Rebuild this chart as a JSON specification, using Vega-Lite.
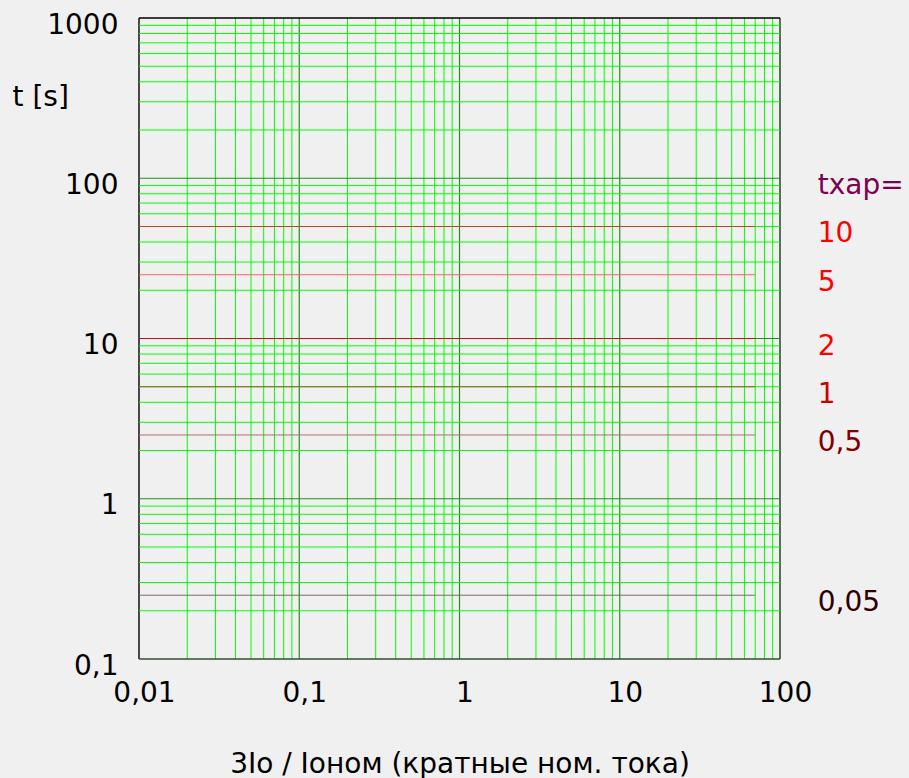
{
  "$schema": "https://vega.github.io/schema/vega-lite/v6.json",
  "width": 641,
  "height": 641,
  "autosize": {"type": "none"},
  "padding": {"left": 139, "top": 18, "right": 129, "bottom": 119},
  "background": "#f0f0f0",
  "config": {
    "view": {"stroke": null},
    "font": "DejaVu Sans",
    "axis": {"labelFont": "DejaVu Sans", "titleFont": "DejaVu Sans", "labelColor": "#000000", "titleColor": "#000000"}
  },
  "datasets": {
    "vgrid": [
      {"x": 0.01, "k": "edgeA"}, {"x": 0.02, "k": "minor"}, {"x": 0.03, "k": "minor"}, {"x": 0.04, "k": "minor"}, {"x": 0.05, "k": "minor"}, {"x": 0.06, "k": "minor"}, {"x": 0.07, "k": "minor"}, {"x": 0.08, "k": "minor"}, {"x": 0.09, "k": "minor"},
      {"x": 0.1, "k": "decade"}, {"x": 0.2, "k": "minor"}, {"x": 0.3, "k": "minor"}, {"x": 0.4, "k": "minor"}, {"x": 0.5, "k": "minor"}, {"x": 0.6, "k": "minor"}, {"x": 0.7, "k": "minor"}, {"x": 0.8, "k": "minor"}, {"x": 0.9, "k": "minor"},
      {"x": 1, "k": "decade"}, {"x": 2, "k": "minor"}, {"x": 3, "k": "minor"}, {"x": 4, "k": "minor"}, {"x": 5, "k": "minor"}, {"x": 6, "k": "minor"}, {"x": 7, "k": "minor"}, {"x": 8, "k": "minor"}, {"x": 9, "k": "minor"},
      {"x": 10, "k": "decade"}, {"x": 20, "k": "minor"}, {"x": 30, "k": "minor"}, {"x": 40, "k": "minor"}, {"x": 50, "k": "minor"}, {"x": 60, "k": "minor"}, {"x": 70, "k": "minor"}, {"x": 80, "k": "minor"}, {"x": 90, "k": "minor"},
      {"x": 100, "k": "edgeB"}
    ],
    "hgrid": [
      {"t": 0.1, "k": "edgeB"}, {"t": 0.2, "k": "minor"}, {"t": 0.3, "k": "minor"}, {"t": 0.4, "k": "minor"}, {"t": 0.5, "k": "minor"}, {"t": 0.6, "k": "minor"}, {"t": 0.7, "k": "minor"}, {"t": 0.8, "k": "minor"}, {"t": 0.9, "k": "minor"},
      {"t": 1, "k": "decade"}, {"t": 2, "k": "minor"}, {"t": 3, "k": "minor"}, {"t": 4, "k": "minor"}, {"t": 5, "k": "minor"}, {"t": 6, "k": "minor"}, {"t": 7, "k": "minor"}, {"t": 8, "k": "minor"}, {"t": 9, "k": "minor"},
      {"t": 10, "k": "decade"}, {"t": 20, "k": "minor"}, {"t": 30, "k": "minor"}, {"t": 40, "k": "minor"}, {"t": 50, "k": "minor"}, {"t": 60, "k": "minor"}, {"t": 70, "k": "minor"}, {"t": 80, "k": "minor"}, {"t": 90, "k": "minor"},
      {"t": 100, "k": "decade"}, {"t": 200, "k": "minor"}, {"t": 300, "k": "minor"}, {"t": 400, "k": "minor"}, {"t": 500, "k": "minor"}, {"t": 600, "k": "minor"}, {"t": 700, "k": "minor"}, {"t": 800, "k": "minor"}, {"t": 900, "k": "minor"},
      {"t": 1000, "k": "edgeA"}
    ],
    "lines": [
      {"s": "10", "t": 50, "x": 0.01, "x2": 70},
      {"s": "5", "t": 25, "x": 0.01, "x2": 70},
      {"s": "2", "t": 10, "x": 0.01, "x2": 70},
      {"s": "1", "t": 5, "x": 0.01, "x2": 70},
      {"s": "0,5", "t": 2.5, "x": 0.01, "x2": 70},
      {"s": "0,05", "t": 0.25, "x": 0.01, "x2": 70}
    ],
    "labels": [
      {"label": "txap=", "t": 100, "x": 172},
      {"label": "10", "t": 50, "x": 172},
      {"label": "5", "t": 25, "x": 172},
      {"label": "2", "t": 10, "x": 172},
      {"label": "1", "t": 5, "x": 172},
      {"label": "0,5", "t": 2.5, "x": 172},
      {"label": "0,05", "t": 0.25, "x": 172}
    ]
  },
  "layer": [
    {
      "data": {"name": "vgrid"},
      "mark": {"type": "rule"},
      "encoding": {
        "x": {
          "field": "x", "type": "quantitative", "title": "3Io / Ioном (кратные ном. тока)",
          "scale": {"type": "log", "domain": [0.01, 100], "nice": false},
          "axis": {
            "values": [0.01, 0.1, 1, 10, 100],
            "grid": false,
            "ticks": false,
            "domain": false,
            "labelExpr": "replace(format(datum.value, '~g'), '.', ',')",
            "labelFontSize": 28,
            "labelPadding": 20,
            "labelOffset": 5,
            "labelOverlap": false,
            "labelFlush": false,
            "labelBound": false,
            "titleFontSize": 28,
            "titleFontWeight": "normal",
            "titleY": 105,
            "titleBaseline": "middle"
          }
        },
        "stroke": {"field": "k", "type": "nominal", "legend": null,
          "scale": {"domain": ["minor", "decade", "edgeA", "edgeB"], "range": ["#00ff00", "#209020", "#000000", "#305030"]}},
        "strokeWidth": {"field": "k", "type": "nominal", "legend": null,
          "scale": {"domain": ["minor", "decade", "edgeA", "edgeB"], "range": [1, 1.6, 1.6, 2]}}
      }
    },
    {
      "data": {"name": "hgrid"},
      "mark": {"type": "rule"},
      "encoding": {
        "y": {
          "field": "t", "type": "quantitative", "title": "t [s]",
          "scale": {"type": "log", "domain": [0.1, 1000], "nice": false},
          "axis": {
            "values": [0.1, 1, 10, 100, 1000],
            "grid": false,
            "ticks": false,
            "domain": false,
            "labelExpr": "replace(format(datum.value, '~g'), '.', ',')",
            "labelFontSize": 28,
            "labelPadding": 21,
            "labelOffset": 7,
            "labelOverlap": false,
            "labelFlush": false,
            "labelBound": false,
            "titleFontSize": 28,
            "titleFontWeight": "normal",
            "titleAngle": 0,
            "titleAlign": "left",
            "titleBaseline": "middle",
            "titleX": -127,
            "titleY": 79
          }
        },
        "stroke": {"field": "k", "type": "nominal", "legend": null},
        "strokeWidth": {"field": "k", "type": "nominal", "legend": null}
      }
    },
    {
      "data": {"name": "lines"},
      "mark": {"type": "rule", "strokeWidth": 1},
      "encoding": {
        "x": {"field": "x", "type": "quantitative", "title": "3Io / Ioном (кратные ном. тока)"},
        "x2": {"field": "x2"},
        "y": {"field": "t", "type": "quantitative", "title": "t [s]"},
        "color": {"field": "s", "type": "nominal", "legend": null,
          "scale": {"domain": ["10", "5", "2", "1", "0,5", "0,05"], "range": ["#d04020", "#ff6060", "#d01010", "#a05a20", "#b07070", "#806868"]}}
      }
    },
    {
      "data": {"name": "labels"},
      "mark": {"type": "text", "align": "left", "baseline": "middle", "dy": 8, "fontSize": 28, "font": "DejaVu Sans"},
      "encoding": {
        "x": {"field": "x", "type": "quantitative", "title": "3Io / Ioном (кратные ном. тока)"},
        "y": {"field": "t", "type": "quantitative", "title": "t [s]"},
        "text": {"field": "label"},
        "fill": {"field": "label", "type": "nominal", "legend": null,
          "scale": {"domain": ["txap=", "10", "5", "2", "1", "0,5", "0,05"], "range": ["#800050", "#ff0000", "#ff0000", "#ff0000", "#cc0000", "#800000", "#300000"]}}
      }
    }
  ]
}
